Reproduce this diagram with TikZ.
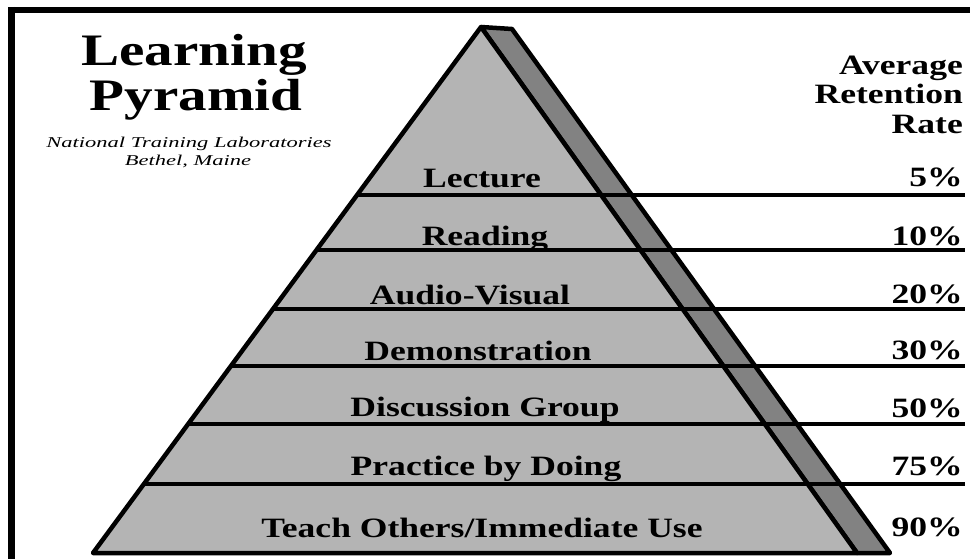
\documentclass[tikz,border=0pt]{standalone}
\usepackage{fontspec}
\setmainfont{Liberation Serif}[FakeStretch=1.27]
\newfontfamily\subfont{Liberation Serif}[FakeStretch=1.5]
\definecolor{facegray}{HTML}{B4B4B4}
\definecolor{shadegray}{HTML}{828282}
\begin{document}
\begin{tikzpicture}[x=1pt,y=-1pt,
  outline/.style={line width=4.5pt,line join=round},
  band/.style={line width=4.2pt},
  lbl/.style={anchor=base,inner sep=0pt,font=\fontsize{28}{30}\selectfont\bfseries},
  pct/.style={anchor=base east,inner sep=0pt,font=\fontsize{28}{30}\selectfont\bfseries},
  ttl/.style={anchor=base,inner sep=0pt,font=\fontsize{45}{50}\selectfont\bfseries},
  sub/.style={anchor=base,inner sep=0pt,font=\fontsize{15}{17}\selectfont\subfont\itshape}]
\useasboundingbox (0,0) rectangle (970,559);
\fill[white] (0,0) rectangle (970,559);
% frame
\draw[line width=6pt] (8,10) -- (970,10);
\draw[line width=7pt] (11,7) -- (11,559);
% pyramid
\coordinate (A) at (481,27);
\coordinate (S) at (512,29);
\coordinate (BL) at (93,553);
\coordinate (BR) at (857,553);
\coordinate (SB) at (890,553);
\filldraw[fill=shadegray,outline] (A) -- (S) -- (SB) -- (BR) -- cycle;
\filldraw[fill=facegray,outline] (A) -- (BL) -- (BR) -- cycle;
% band lines
\foreach \yy/\nm in {195/l1,250/l2,309/l3,366/l4,424/l5,484/l6}{
  \pgfmathsetmacro{\xl}{481-(\yy-27)/526*388}
  \coordinate (\nm a) at (\xl,\yy);
  \coordinate (\nm b) at (965,\yy);
  \draw[band] (\nm a) -- (\nm b);
}
\draw[outline] (BL) -- (BR);
% title
\node[ttl] (t1) at (194,66) {Learning};
\node[ttl] (t2) at (196,111) {Pyramid};
\node[sub] (s1) at (189,147.5) {National Training Laboratories};
\node[sub] (s2) at (188,166) {Bethel, Maine};
% header
\node[pct] (h1) at (963,75) {Average};
\node[pct] (h2) at (963,104) {Retention};
\node[pct] (h3) at (963,134) {Rate};
% labels
\node[lbl] (n1) at (482,188) {Lecture};
\node[lbl] (n2) at (485,245) {Reading};
\node[lbl] (n3) at (470,304) {Audio-Visual};
\node[lbl] (n4) at (478,360) {Demonstration};
\node[lbl] (n5) at (485,416) {Discussion Group};
\node[lbl] (n6) at (486,475) {Practice by Doing};
\node[lbl] (n7) at (482,537) {Teach Others/Immediate Use};
% percentages
\node[pct] (p1) at (963,187) {5\%};
\node[pct] (p2) at (963,245) {10\%};
\node[pct] (p3) at (963,303) {20\%};
\node[pct] (p4) at (963,359) {30\%};
\node[pct] (p5) at (963,417) {50\%};
\node[pct] (p6) at (963,475) {75\%};
\node[pct] (p7) at (963,536) {90\%};
\end{tikzpicture}
\end{document}
